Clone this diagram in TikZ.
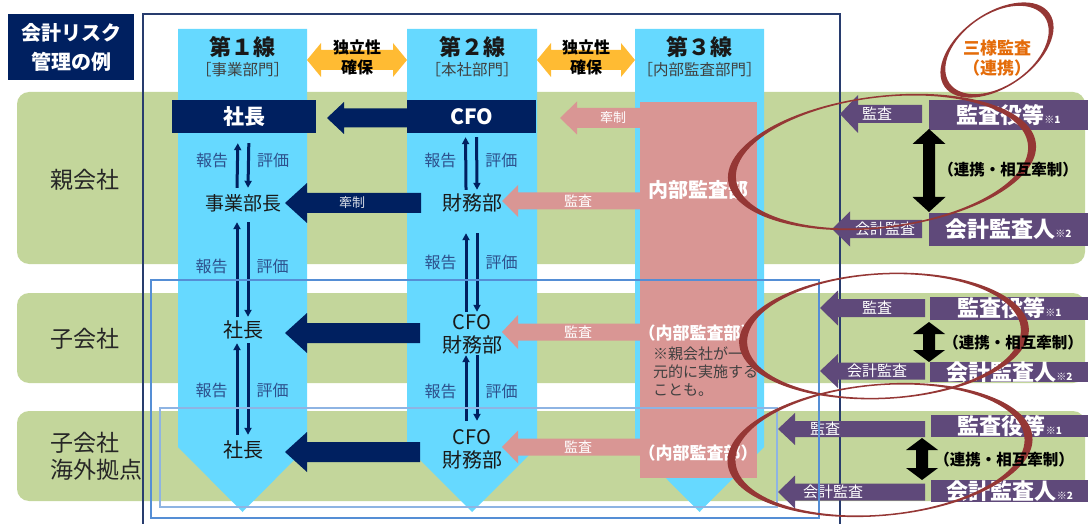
\documentclass[tikz,border=0pt]{standalone}
\usepackage{fontspec}
\setmainfont{Noto Sans CJK JP}
\usetikzlibrary{positioning, arrows.meta, calc}

\definecolor{navy}{RGB}{0,32,96}
\definecolor{colblue}{RGB}{102,217,255}
\definecolor{bandgreen}{RGB}{195,214,155}
\definecolor{auditpink}{RGB}{217,150,148}
\definecolor{kansapurple}{RGB}{95,73,122}
\definecolor{indeporange}{RGB}{255,187,51}
\definecolor{swooshred}{RGB}{149,55,53}
\definecolor{sanyoorange}{RGB}{228,108,10}
\definecolor{framenavy}{RGB}{40,60,110}
\definecolor{rectblue}{RGB}{85,142,213}
\definecolor{rectlight}{RGB}{142,180,227}
\definecolor{labelblue}{RGB}{45,80,140}
\definecolor{textgray}{RGB}{64,64,64}

\newcommand{\fs}[1]{\fontsize{#1}{#1}\selectfont}

% left-pointing block arrow: style, tip x, y, tail x, shaft half, head half, head length
\newcommand{\blkarrow}[7]{%
  \fill[#1] (#2,#3) -- (#2+#7,#3-#6) -- (#2+#7,#3-#5) -- (#4,#3-#5)
    -- (#4,#3+#5) -- (#2+#7,#3+#5) -- (#2+#7,#3+#6) -- cycle;}
% horizontal double arrow: style, x1, x2, y, shaft half, head half, head length
\newcommand{\dblh}[7]{%
  \fill[#1] (#2,#4) -- (#2+#7,#4-#6) -- (#2+#7,#4-#5) -- (#3-#7,#4-#5)
    -- (#3-#7,#4-#6) -- (#3,#4) -- (#3-#7,#4+#6) -- (#3-#7,#4+#5)
    -- (#2+#7,#4+#5) -- (#2+#7,#4+#6) -- cycle;}
% vertical double arrow: style, x, y1, y2, shaft half, head half, head length
\newcommand{\dblv}[7]{%
  \fill[#1] (#2,#3) -- (#2+#6,#3+#7) -- (#2+#5,#3+#7) -- (#2+#5,#4-#7)
    -- (#2+#6,#4-#7) -- (#2,#4) -- (#2-#6,#4-#7) -- (#2-#5,#4-#7)
    -- (#2-#5,#3+#7) -- (#2-#6,#3+#7) -- cycle;}
% report / evaluate pair: upper node, lower node, gap at upper, gap at lower
\newcommand{\hyoka}[4]{%
  \draw[rep, shorten <=#4, shorten >=#3] ([xshift=-6pt]#2.north)
     -- node[replbl, left=8pt] {報告} ([xshift=-6pt]#1.south);
  \draw[rep, shorten <=#3, shorten >=#4] ([xshift=5pt]#1.south)
     -- node[replbl, right=7pt] {評価} ([xshift=5pt]#2.north);}

\begin{document}
\begin{tikzpicture}[
  x=1pt, y=-1pt,
  band/.style={fill=bandgreen, rounded corners=12pt},
  navybox/.style={fill=navy, text=white, font=\fs{21}\bfseries,
                  minimum height=33pt, inner sep=0pt},
  body/.style={inner sep=0pt, minimum height=30pt, font=\fs{20}, text=black!90},
  head/.style={font=\fs{22}\bfseries, text=black!90},
  dept/.style={font=\fs{15.5}, text=textgray},
  indep/.style={font=\fontsize{16}{20}\selectfont\bfseries, align=center},
  rowlbl/.style={anchor=west, font=\fontsize{23}{27}\selectfont, align=left, text=black!85},
  rep/.style={-{Triangle[length=7pt, width=7pt]}, line width=3pt, draw=navy},
  replbl/.style={font=\fs{16}, text=labelblue, inner sep=0pt},
  onarrow/.style={font=\fs{14}, text=white, inner sep=0pt},
  pbox/.style={fill=kansapurple, text=white, font=\fs{22}\bfseries,
               minimum width=159pt, inner sep=0pt},
  renkei/.style={font=\fs{15.5}\bfseries, text=black},
  swoosh/.style={fill=swooshred, even odd rule},
]
\useasboundingbox (0,0) rectangle (1088,524);

% Row bands
\fill[band] (17,92) rectangle (1085,264);
\fill[band] (17,293) rectangle (1085,383);
\fill[band] (17,411) rectangle (1085,501);

% Three lines of defence
\fill[colblue] (178,29) -- (307,29) -- (307,447) -- (242.5,512) -- (178,447) -- cycle;
\fill[colblue] (407,29) -- (537,29) -- (537,447) -- (472,512) -- (407,447) -- cycle;
\fill[colblue] (635,29) -- (764,29) -- (764,447) -- (699.5,512) -- (635,447) -- cycle;

% Outer frame
\draw[framenavy, line width=1.5pt] (143,524) -- (143,14) -- (840,14) -- (840,524);

% Title
\node[fill=navy, text=white, font=\fontsize{20}{29}\selectfont\bfseries, align=center,
      minimum width=126pt, minimum height=66pt, inner sep=0pt] (title) at (71,47)
  {会計リスク\\管理の例};

% Column headers
\node[head] (line1) at (242.5,47) {第１線};
\node[dept] (dept1) at (242.5,70) {［事業部門］};
\node[head] (line2) at (472,47) {第２線};
\node[dept] (dept2) at (472,70) {［本社部門］};
\node[head] (line3) at (699.5,47) {第３線};
\node[dept] (dept3) at (699.5,70) {［内部監査部門］};

% Independence arrows
\dblh{indeporange}{307}{407}{60}{10}{17}{14}
\dblh{indeporange}{537}{635}{60}{10}{17}{14}
\node[indep] (indep1) at (357,57) {独立性\\確保};
\node[indep] (indep2) at (586,57) {独立性\\確保};

% Row labels
\node[rowlbl] (oya) at (47,180) {親会社};
\node[rowlbl] (ko) at (47,339) {子会社};
\node[rowlbl] (kaigai) at (47,456) {子会社\\海外拠点};

% Internal audit column
\fill[auditpink] (640,102) rectangle (757,478);

% Parent company
\node[navybox, minimum width=144pt] (shacho1) at (244,116.5) {社長};
\node[navybox, minimum width=129pt] (cfo1) at (471.5,116.5) {CFO};
\node[body, font=\fs{19}] (jigyo) at (243,203) {事業部長};
\node[body] (zaimu1) at (472,203) {財務部};
\blkarrow{navy}{327}{118}{407}{9.5}{16}{17}
\blkarrow{navy}{285}{203}{421}{10}{20}{22}
\node[onarrow, font=\fs{13}, text=white!85!navy] (kensei1) at (352,203) {牽制};
\blkarrow{auditpink}{560}{118}{640}{10}{16.5}{17}
\node[onarrow, font=\fs{13}] (kensei2) at (613,118) {牽制};
\blkarrow{auditpink}{502}{201}{640}{8.5}{16}{16}
\node[onarrow] (kansa1) at (578,201) {監査};
\node[font=\fs{20}\bfseries, text=white] (naibu1) at (698,190) {内部監査部};
\hyoka{shacho1}{jigyo}{10pt}{0pt}
\hyoka{cfo1}{zaimu1}{4pt}{-2pt}

% Subsidiary
\node[body] (shacho2) at (243,330) {社長};
\node[body] (cfo2) at (472,322) {CFO};
\node[body] (zaimu2) at (472,345) {財務部};
\blkarrow{navy}{285}{333}{420}{10}{20}{22}
\blkarrow{auditpink}{502}{332}{640}{8.5}{17}{16}
\node[onarrow] (kansa2) at (578,332) {監査};
\node[font=\fs{17}\bfseries, text=white] (naibu2) at (698,333) {（内部監査部）};
\node[anchor=north west, font=\fontsize{15}{18}\selectfont, text=textgray, align=left,
      inner sep=0pt] (note) at (653,347) {※親会社が一\\元的に実施する\\ことも。};
\hyoka{jigyo}{shacho2}{4pt}{-2pt}
\hyoka{zaimu1}{cfo2}{15pt}{-5pt}

% Overseas subsidiary
\node[body] (shacho3) at (243,450) {社長};
\node[body] (cfo3) at (472,437) {CFO};
\node[body] (zaimu3) at (472,460) {財務部};
\blkarrow{navy}{285}{452}{420}{10}{20}{22}
\blkarrow{auditpink}{502}{447}{640}{8.5}{16.5}{16}
\node[onarrow] (kansa3) at (578,447) {監査};
\node[font=\fs{17}\bfseries, text=white] (naibu3) at (698,453) {（内部監査部）};
\hyoka{shacho2}{shacho3}{-2pt}{0pt}
\hyoka{zaimu2}{cfo3}{-5pt}{1pt}

% Auditors, parent
\node[pbox, minimum height=30pt] (kansayaku1) at (1008.5,115) {監査役等{\fs{10}※1}};
\node[pbox, minimum height=33pt] (kaikei1) at (1008.5,229.5) {会計監査人{\fs{10}※2}};
\blkarrow{kansapurple}{840}{114}{922}{9}{19}{18}
\blkarrow{kansapurple}{832}{229}{922}{9}{17.5}{18}
\node[onarrow, font=\fs{15}] (ka1) at (877,114) {監査};
\node[onarrow, font=\fs{15}] (kk1) at (885,229) {会計監査};
\dblv{black}{929}{129}{212}{6}{16.5}{15}

% Auditors, subsidiary
\node[pbox, minimum height=23pt] (kansayaku2) at (1009.5,308.5) {監査役等{\fs{10}※1}};
\node[pbox, minimum height=20pt] (kaikei2) at (1009.5,372) {会計監査人{\fs{10}※2}};
\blkarrow{kansapurple}{820}{308}{925}{9}{17.5}{18}
\blkarrow{kansapurple}{820}{371}{925}{8.5}{17}{18}
\node[onarrow, font=\fs{15}] (ka2) at (877,308) {監査};
\node[onarrow, font=\fs{15}] (kk2) at (877,371) {会計監査};
\dblv{black}{929}{322}{362}{6}{16}{12}

% Auditors, overseas
\node[pbox, minimum height=22pt] (kansayaku3) at (1010,426) {監査役等{\fs{10}※1}};
\node[pbox, minimum height=22pt] (kaikei3) at (1010,491) {会計監査人{\fs{10}※2}};
\blkarrow{kansapurple}{778}{429}{925}{8}{16}{17}
\blkarrow{kansapurple}{778}{492}{925}{8.5}{16.5}{17}
\node[onarrow, font=\fs{15}] (ka3) at (825,429) {監査};
\node[onarrow, font=\fs{15}] (kk3) at (833,492) {会計監査};
\dblv{black}{922}{438}{480}{6}{16}{12}

% Scope rectangles
\draw[rectblue, line width=1.5pt] (151,280) rectangle (819,518);
\draw[rectlight, line width=1.5pt] (160,408) rectangle (777,507);

% Three-way audit swooshes
\fill[swoosh, rotate around={35:(997,50)}] (997,50) ellipse [x radius=64, y radius=37]
  (997,50) ellipse [x radius=58, y radius=35.5];
\node[font=\fontsize{17}{20}\selectfont\bfseries, text=sanyoorange, align=center]
  (sanyo) at (997,58) {三様監査\\（連携）};
\fill[swoosh, rotate around={7:(882,162)}] (882,162) ellipse [x radius=155, y radius=66]
  (882,162) ellipse [x radius=147, y radius=64.5];
\fill[swoosh, rotate around={3:(884,336)}] (884,336) ellipse [x radius=145, y radius=63]
  (884,336) ellipse [x radius=137, y radius=61.5];
\fill[swoosh, rotate around={5:(880,450)}] (880,450) ellipse [x radius=153, y radius=66]
  (880,450) ellipse [x radius=145, y radius=64.5];

% Cooperation labels
\node[renkei] (renkei1) at (1008,170) {（連携・相互牽制）};
\node[renkei] (renkei2) at (1013,343) {（連携・相互牽制）};
\node[renkei] (renkei3) at (1004,460) {（連携・相互牽制）};
\end{tikzpicture}
\end{document}
